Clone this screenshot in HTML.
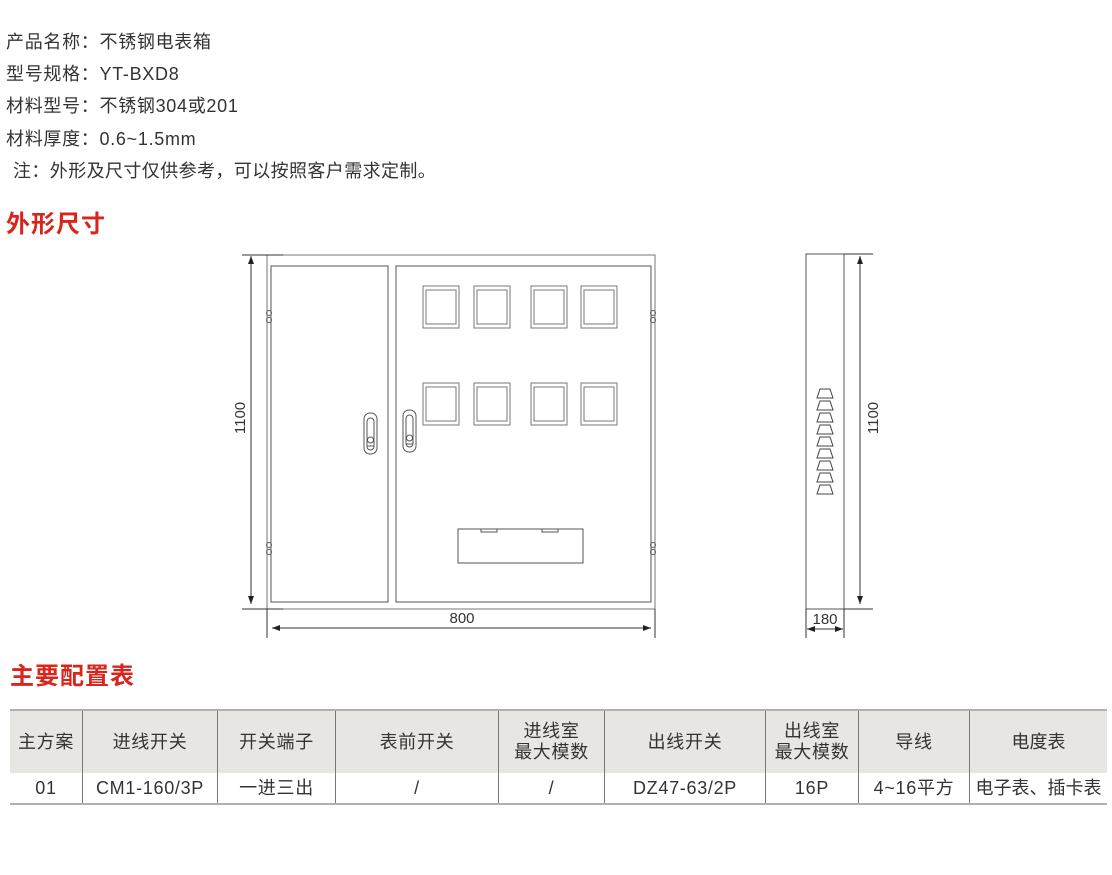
<!DOCTYPE html>
<html><head><meta charset="utf-8"><style>
body{margin:0;width:1112px;height:875px;background:#fff;position:relative;overflow:hidden;font-family:"Liberation Sans","Noto Sans CJK SC",sans-serif;color:#333}
.l{position:absolute;left:6px;font-size:18px;line-height:20px;letter-spacing:0.7px;white-space:nowrap}
.h{position:absolute;left:6px;font-size:24px;font-weight:bold;color:#d9261c;line-height:28px;font-family:"Noto Sans CJK SC",sans-serif;letter-spacing:1px}
svg{position:absolute;left:0;top:0}
table{position:absolute;left:10px;top:709px;border-collapse:collapse;font-size:18px;color:#333;letter-spacing:0.7px}
td{border-left:1px solid #777;border-right:1px solid #777;text-align:center;padding:0;line-height:21px}
tr.hd td{background:#e8e6e3;height:62px;border-top:2px solid #b0b0b0}
tr.dt td{height:30px;border-bottom:2px solid #b0b0b0}
</style></head><body>
<div class="l" style="top:32px">产品名称：不锈钢电表箱</div>
<div class="l" style="top:64px">型号规格：YT-BXD8</div>
<div class="l" style="top:96px">材料型号：不锈钢304或201</div>
<div class="l" style="top:129px">材料厚度：0.6~1.5mm</div>
<div class="l" style="top:161px;left:13px;letter-spacing:0.4px">注：外形及尺寸仅供参考，可以按照客户需求定制。</div>
<div class="h" style="top:208px">外形尺寸</div>
<div class="h" style="top:660px;left:10px">主要配置表</div>
<svg width="1112" height="875" viewBox="0 0 1112 875">
<defs><marker id="a" markerWidth="8" markerHeight="6" refX="8" refY="3" orient="auto"><path d="M0,0L8,3L0,6z" fill="#222"/></marker></defs>
<g fill="none" stroke="#555" stroke-width="1">
<rect x="267" y="255" width="388" height="354" stroke="#777"/>
<rect x="271" y="266" width="117" height="336"/>
<rect x="396" y="266" width="255" height="336"/>
<g stroke="#777">
<rect x="423" y="286" width="36" height="42"/><rect x="426" y="290" width="30" height="34"/>
<rect x="474" y="286" width="36" height="42"/><rect x="477" y="290" width="30" height="34"/>
<rect x="531" y="286" width="36" height="42"/><rect x="534" y="290" width="30" height="34"/>
<rect x="581" y="286" width="36" height="42"/><rect x="584" y="290" width="30" height="34"/>
<rect x="423" y="383" width="36" height="42"/><rect x="426" y="387" width="30" height="34"/>
<rect x="474" y="383" width="36" height="42"/><rect x="477" y="387" width="30" height="34"/>
<rect x="531" y="383" width="36" height="42"/><rect x="534" y="387" width="30" height="34"/>
<rect x="581" y="383" width="36" height="42"/><rect x="584" y="387" width="30" height="34"/>
</g>
<rect x="364" y="413" width="13" height="41" rx="6"/><rect x="367" y="418" width="7" height="32" rx="3.5"/>
<circle cx="370.5" cy="440" r="3"/><line x1="367" y1="446" x2="374" y2="446"/>
<rect x="403" y="410" width="13" height="42" rx="6"/><rect x="406" y="415" width="7" height="32" rx="3.5"/>
<circle cx="409.5" cy="438" r="3"/><line x1="406" y1="444" x2="413" y2="444"/>
<rect x="458" y="529" width="125" height="34"/>
<rect x="481" y="529" width="16" height="3"/><rect x="542" y="529" width="16" height="3"/>
<circle cx="269" cy="313" r="2.5"/><circle cx="269" cy="320" r="2.5"/>
<circle cx="269" cy="545" r="2.5"/><circle cx="269" cy="552" r="2.5"/>
<circle cx="653" cy="313" r="2.5"/><circle cx="653" cy="320" r="2.5"/>
<circle cx="653" cy="545" r="2.5"/><circle cx="653" cy="552" r="2.5"/>
</g>
<g stroke="#333" stroke-width="1" fill="none">
<line x1="242" y1="255" x2="283" y2="255"/><line x1="242" y1="609" x2="283" y2="609"/>
<line x1="251" y1="265" x2="251" y2="600"/>
<line x1="251" y1="265" x2="251" y2="256" marker-end="url(#a)"/>
<line x1="251" y1="595" x2="251" y2="604" marker-end="url(#a)"/>
<line x1="267" y1="609" x2="267" y2="638"/><line x1="655" y1="609" x2="655" y2="638"/>
<line x1="280" y1="628" x2="640" y2="628"/>
<line x1="285" y1="628" x2="272" y2="628" marker-end="url(#a)"/>
<line x1="640" y1="628" x2="651" y2="628" marker-end="url(#a)"/>
<rect x="806" y="254" width="38" height="355" stroke="#555"/>
<line x1="844" y1="254" x2="873" y2="254"/><line x1="844" y1="609" x2="873" y2="609"/>
<line x1="860" y1="268" x2="860" y2="595"/>
<line x1="860" y1="268" x2="860" y2="256" marker-end="url(#a)"/>
<line x1="860" y1="595" x2="860" y2="604" marker-end="url(#a)"/>
<line x1="806" y1="609" x2="806" y2="638"/><line x1="844" y1="609" x2="844" y2="638"/>
<line x1="820" y1="629" x2="807" y2="629" marker-end="url(#a)"/>
<line x1="820" y1="629" x2="843" y2="629" marker-end="url(#a)"/>
<g stroke="#444">
<path d="M820,389h10l3,9h-16z"/><path d="M820,401h10l3,9h-16z"/><path d="M820,413h10l3,9h-16z"/>
<path d="M820,425h10l3,9h-16z"/><path d="M820,437h10l3,9h-16z"/><path d="M820,449h10l3,9h-16z"/>
<path d="M820,461h10l3,9h-16z"/><path d="M820,473h10l3,9h-16z"/><path d="M820,485h10l3,9h-16z"/>
</g>
</g>
<g font-family="Liberation Sans,sans-serif" font-size="15" fill="#333" text-anchor="middle">
<text x="462" y="623">800</text>
<text x="825" y="624">180</text>
<text transform="translate(245,418) rotate(-90)">1100</text>
<text transform="translate(878,418) rotate(-90)">1100</text>
</g>
</svg>
<table>
<tr class="hd"><td style="width:72px;border-left:none">主方案</td><td style="width:134px">进线开关</td><td style="width:117px">开关端子</td><td style="width:162px">表前开关</td><td style="width:105px">进线室<br>最大模数</td><td style="width:160px">出线开关</td><td style="width:92px">出线室<br>最大模数</td><td style="width:110px">导线</td><td style="width:137px;border-right:none;letter-spacing:0">电度表</td></tr>
<tr class="dt"><td style="border-left:none">01</td><td>CM1-160/3P</td><td>一进三出</td><td>/</td><td>/</td><td>DZ47-63/2P</td><td>16P</td><td>4~16平方</td><td style="border-right:none;letter-spacing:0">电子表、插卡表</td></tr>
</table>
</body></html>
